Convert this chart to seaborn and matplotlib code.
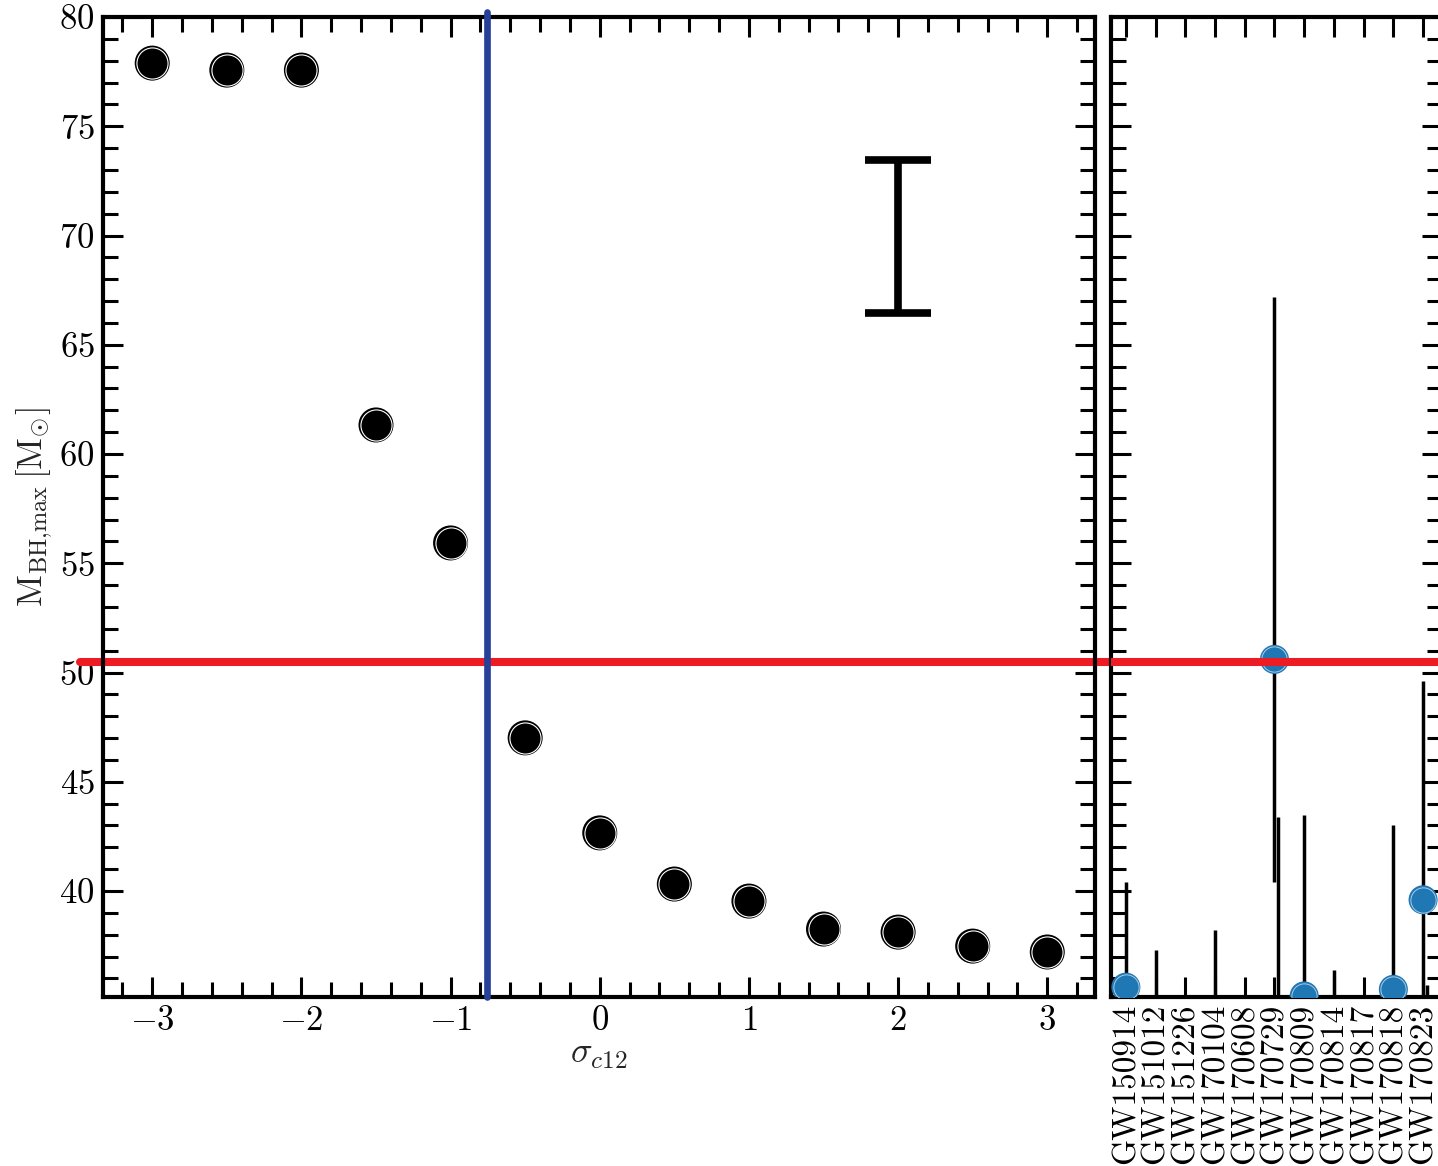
import matplotlib
matplotlib.use("Agg")
import matplotlib.pyplot as plt
from matplotlib.ticker import MultipleLocator, FixedLocator, NullLocator
import numpy as np
import pandas as pd
import seaborn as sns

# ---- data -------------------------------------------------------------
sigma_c12 = [-3.0, -2.5, -2.0, -1.5, -1.0, -0.5, 0.0, 0.5, 1.0, 1.5, 2.0, 2.5, 3.0]
mbh_max = [77.89, 77.57, 77.57, 61.33, 55.93, 47.01, 42.66, 40.32, 39.54, 38.26, 38.12, 37.48, 37.21]

typical_err_x = 2.0
typical_err_y = 69.95
typical_err = 3.5

events = ["GW150914", "GW151012", "GW151226", "GW170104", "GW170608", "GW170729",
          "GW170809", "GW170814", "GW170817", "GW170818", "GW170823"]
m1 = [35.6, 23.3, 13.6, 31.0, 10.9, 50.6, 35.2, 30.7, 1.46, 35.5, 39.6]
m1_up = [4.8, 14.0, 8.3, 7.2, 5.3, 16.6, 8.3, 5.7, 0.12, 7.5, 10.0]
m1_lo = [3.0, 5.5, 3.3, 5.6, 1.7, 10.2, 6.0, 3.0, 0.10, 4.7, 6.6]
m2 = [30.6, 13.6, 7.7, 20.0, 7.6, 33.7, 23.8, 25.3, 1.27, 26.8, 29.4]
m2_up = [3.0, 4.1, 2.2, 4.9, 1.3, 9.7, 5.2, 2.9, 0.09, 4.3, 6.3]
m2_lo = [4.4, 4.8, 2.6, 4.6, 2.1, 10.5, 5.1, 4.1, 0.09, 5.2, 7.1]

sigma_limit = -0.755
mass_limit = 50.5

# ---- style ------------------------------------------------------------
sns.set_style("ticks")
plt.rcParams.update({
    "font.family": "serif",
    "font.serif": ["cmr10", "DejaVu Serif"],
    "mathtext.fontset": "cm",
    "axes.formatter.use_mathtext": True,
    "axes.unicode_minus": True,
    "axes.linewidth": 3.0,
    "axes.edgecolor": "black",
    "font.size": 25,
})

W, H = 1438, 1166
fig = plt.figure(figsize=(W / 100, H / 100), dpi=100)
bottom = (H - 997) / H
height = 980 / H
ax = fig.add_axes([103 / W, bottom, 992 / W, height])
ax2 = fig.add_axes([1111 / W, bottom, 330.5 / W, height], sharey=ax)

# ---- left panel: maximum BH mass vs sigma_c12 ------------------------
df = pd.DataFrame({"sigma": sigma_c12, "mbh": mbh_max})
sns.scatterplot(data=df, x="sigma", y="mbh", ax=ax, s=25.2 ** 2, color="black",
                edgecolor="none", linewidth=0, zorder=4, legend=False)
sns.scatterplot(data=df, x="sigma", y="mbh", ax=ax, s=22.4 ** 2, color="black",
                edgecolor="white", linewidth=0.8, zorder=5, legend=False)

ax.errorbar([typical_err_x], [typical_err_y], yerr=[typical_err], fmt="none",
            ecolor="black", elinewidth=5.5, capsize=24, capthick=5.5, zorder=4)

ax.axvline(sigma_limit, ymin=0, ymax=1.005, color="#263f99", lw=4.8,
           clip_on=False, zorder=3)
ax.axhline(mass_limit, xmin=(80 - 103) / 992, xmax=(1111 - 103) / 992,
           color="#ed1c24", lw=5.8, clip_on=False, zorder=2)

ax.set_xlim(-3.33, 3.32)
ax.set_ylim(35.15, 80)
ax.xaxis.set_major_locator(MultipleLocator(1))
ax.xaxis.set_minor_locator(MultipleLocator(0.2))
ax.yaxis.set_major_locator(MultipleLocator(5))
ax.yaxis.set_minor_locator(MultipleLocator(1))
ax.set_xlabel(r"$\sigma_{c12}$", fontsize=26, labelpad=2)
ax.set_ylabel(r"$\mathrm{M}_{\mathrm{BH{,}max}}\,[\mathrm{M}_{\odot}]$", fontsize=25, labelpad=3)

for a in (ax, ax2):
    a.tick_params(which="both", direction="in", top=True, right=True,
                  width=2.2, colors="black", labelsize=25)
    a.tick_params(which="major", length=14.5, pad=6)
    a.tick_params(which="minor", length=11)
    for s in a.spines.values():
        s.set_linewidth(3.0)
        s.set_color("black")

# ---- right panel: GWTC-1 primary masses --------------------------------
xpos = np.arange(len(events))
ev = pd.DataFrame({"x": xpos, "m1": m1})
ax2.errorbar(xpos, m1, yerr=[m1_lo, m1_up], fmt="none", ecolor="black",
             elinewidth=2.5, capsize=0, zorder=3)
ax2.errorbar(xpos + 0.12, m2, yerr=[m2_lo, m2_up], fmt="none", ecolor="black",
             elinewidth=2.5, capsize=0, zorder=3)
sns.scatterplot(data=ev, x="x", y="m1", ax=ax2, s=20.9 ** 2, color="#1f77b4",
                edgecolor="none", linewidth=0, zorder=4, legend=False)
sns.scatterplot(data=ev, x="x", y="m1", ax=ax2, s=18.2 ** 2, color="#1f77b4",
                edgecolor="#a9cbe6", linewidth=0.7, zorder=5, legend=False)
ax2.axhline(mass_limit, xmin=0, xmax=1, color="#ed1c24", lw=5.8, zorder=6)

ax2.set_xlim(-0.5, 10.62)
ax2.xaxis.set_major_locator(FixedLocator(xpos))
ax2.xaxis.set_minor_locator(NullLocator())
ax2.set_xticklabels(events, rotation=90, fontsize=24)
ax2.tick_params(axis="x", which="major", pad=5)
ax2.tick_params(axis="y", labelleft=False)
ax2.set_xlabel("")
ax2.set_ylabel("")

fig.savefig("out.png", dpi=100)
